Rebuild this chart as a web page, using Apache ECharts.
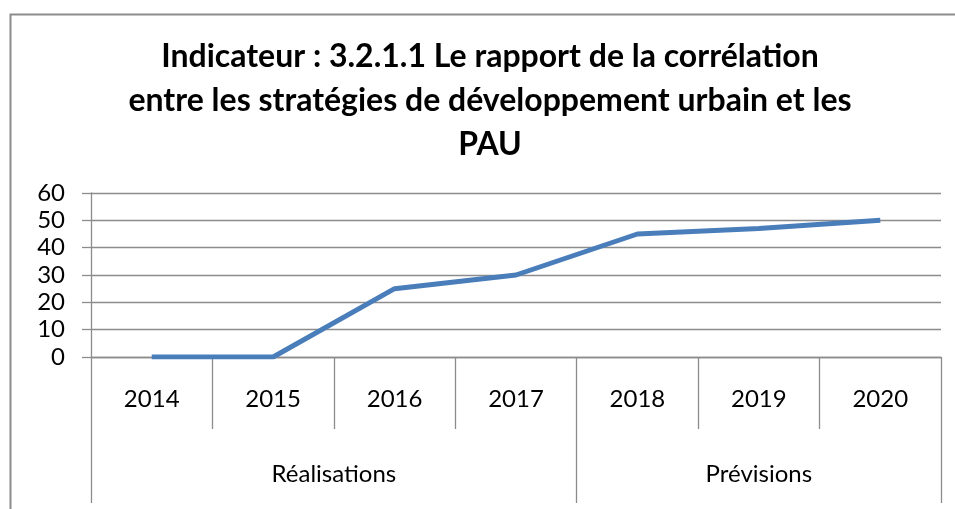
<!DOCTYPE html>
<html>
<head>
<meta charset="utf-8">
<script src="https://cdn.jsdelivr.net/npm/echarts@6/dist/echarts.min.js"></script>
<style>html,body{margin:0;padding:0;background:#fff;}#c{width:955px;height:509px;}</style>
</head>
<body>
<div id="c"></div>
<script>
const titleText = "Indicateur : 3.2.1.1 Le rapport de la corrélation\nentre les stratégies de développement urbain et les\nPAU";
const years = ["2014","2015","2016","2017","2018","2019","2020"];
const values = [0, 0, 25, 30, 45, 47, 50];
const groups = ["Réalisations", "Prévisions"];
const groupSizes = [4, 3];
const yTicks = [0, 10, 20, 30, 40, 50, 60];

// derived group boundaries and centres (in category units)
const groupBounds = [0];
groupSizes.forEach(s => groupBounds.push(groupBounds[groupBounds.length - 1] + s));
const groupCenters = groupSizes.map((s, i) => groupBounds[i] + s / 2);

const gray = '#8c8c8c';
const font = 'Lato';
const chart = echarts.init(document.getElementById('c'), null, {renderer: 'canvas'});
chart.setOption({
  animation: false,
  backgroundColor: '#fff',
  graphic: [{
    type: 'rect', left: 8, top: 12,
    shape: {width: 960, height: 520},
    style: {fill: 'none', stroke: gray, lineWidth: 2}
  }],
  title: {
    text: titleText,
    left: 485, top: 30, textAlign: 'center',
    textStyle: {fontFamily: font, fontWeight: 'bold', fontSize: 32, lineHeight: 44, color: '#000'}
  },
  grid: {left: 91, right: 14, top: 193, bottom: 152, containLabel: false},
  xAxis: [{
    type: 'category', data: years, boundaryGap: true, position: 'bottom',
    axisLine: {show: true, lineStyle: {color: gray, width: 1.3}},
    axisTick: {show: true, length: 72, alignWithLabel: false, lineStyle: {color: gray, width: 1.3}},
    axisLabel: {margin: 30, fontFamily: font, fontSize: 24, color: '#000'},
    splitLine: {show: false}
  }, {
    type: 'value', min: 0, max: years.length, position: 'bottom', offset: 72,
    axisLine: {show: false},
    axisTick: {show: true, length: 74, customValues: groupBounds, lineStyle: {color: gray, width: 1.3}},
    axisLabel: {
      margin: 33, fontFamily: font, fontSize: 24, color: '#000',
      customValues: groupCenters,
      formatter: v => { const i = groupCenters.indexOf(v); return i >= 0 ? groups[i] : ''; }
    },
    splitLine: {show: false}
  }],
  yAxis: {
    type: 'value', min: yTicks[0], max: yTicks[yTicks.length - 1], interval: 10,
    axisLine: {show: true, lineStyle: {color: gray, width: 1.3}},
    axisTick: {show: true, length: 9, lineStyle: {color: gray, width: 1.3}},
    axisLabel: {margin: 26, fontFamily: font, fontSize: 24, color: '#000'},
    splitLine: {show: true, lineStyle: {color: gray, width: 1.3}}
  },
  series: [{
    type: 'line', xAxisIndex: 0, data: values,
    symbol: 'none', smooth: false,
    lineStyle: {color: '#4a7ebb', width: 5},
    itemStyle: {color: '#4a7ebb'}
  }]
});
</script>
</body>
</html>
